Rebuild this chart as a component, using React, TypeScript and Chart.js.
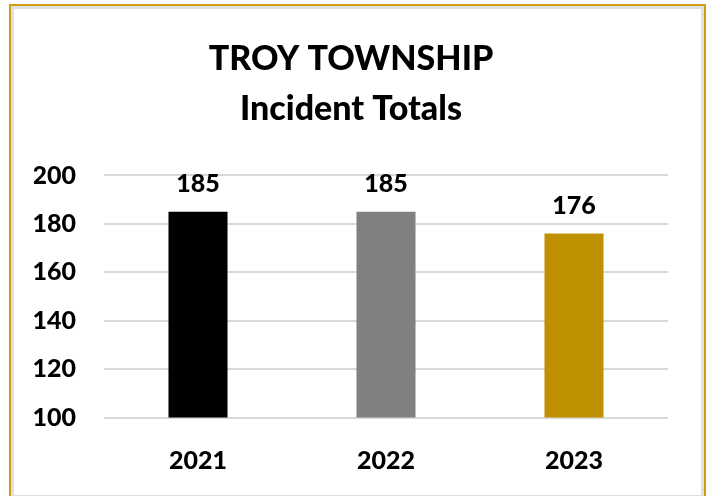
import React, { useEffect, useRef } from "react";
import { Chart, registerables } from "chart.js";

Chart.register(...registerables);

const categories = ["2021", "2022", "2023"];
const incidentTotals = [185, 185, 176];
const barColors = ["#000000", "#808080", "#BF9000"];
const titleLines = ["TROY TOWNSHIP", "Incident Totals"];
const yMin = 100;
const yMax = 200;
const yStep = 20;

const FONT = "Lato, 'Open Sans', sans-serif";

const valueLabels = {
  id: "valueLabels",
  afterDatasetsDraw(chart: any) {
    const ctx = chart.ctx;
    const meta = chart.getDatasetMeta(0);
    const data = chart.data.datasets[0].data;
    ctx.save();
    ctx.font = `900 25px ${FONT}`;
    ctx.fillStyle = "#000000";
    ctx.textAlign = "center";
    ctx.textBaseline = "alphabetic";
    meta.data.forEach((bar: any, i: number) => {
      ctx.fillText(String(data[i]), bar.x, bar.y - 20);
    });
    ctx.restore();
  },
};

export default function App() {
  const canvasRef = useRef<HTMLCanvasElement | null>(null);

  useEffect(() => {
    if (!canvasRef.current) return;
    const chart = new Chart(canvasRef.current, {
      type: "bar",
      data: {
        labels: categories,
        datasets: [
          {
            data: incidentTotals,
            backgroundColor: barColors,
            borderWidth: 0,
            barPercentage: 0.314,
            categoryPercentage: 1,
          },
        ],
      },
      options: {
        animation: false,
        responsive: false,
        maintainAspectRatio: false,
        layout: { padding: { top: 20, left: 34, right: 39, bottom: 0 } },
        plugins: {
          legend: { display: false },
          tooltip: { enabled: false },
          title: {
            display: true,
            text: titleLines,
            color: "#000000",
            font: { family: FONT, size: 34, weight: "900", lineHeight: 1.47 },
            padding: { top: 14, bottom: 41.5 },
          },
        },
        scales: {
          x: {
            grid: { display: false, drawTicks: false },
            border: { display: false },
            ticks: {
              color: "#000000",
              font: { family: FONT, size: 25, weight: "900" },
              padding: 28,
            },
            afterFit(scale: any) {
              scale.height = 78.5;
            },
          },
          y: {
            min: yMin,
            max: yMax,
            grid: { color: "#D9D9D9", lineWidth: 2, drawTicks: false },
            border: { display: false },
            ticks: {
              stepSize: yStep,
              color: "#000000",
              font: { family: FONT, size: 25, weight: "900" },
              padding: 28,
            },
            afterFit(scale: any) {
              scale.width = 70;
            },
          },
        },
      },
      plugins: [valueLabels],
    });
    return () => chart.destroy();
  }, []);

  return (
    <div style={{ position: "fixed", left: 0, top: 0, width: 707, height: 496, background: "#ffffff", overflow: "hidden" }}>
      <canvas ref={canvasRef} width={707} height={496} style={{ position: "absolute", left: 0, top: 0 }} />
      <div
        style={{
          position: "absolute",
          left: 9,
          top: 4,
          width: 697,
          height: 496,
          boxSizing: "border-box",
          border: "2px solid #D09E12",
          pointerEvents: "none",
        }}
      >
        <div style={{ width: "100%", height: "100%", boxSizing: "border-box", border: "3px solid #E0E0E0" }} />
      </div>
    </div>
  );
}
